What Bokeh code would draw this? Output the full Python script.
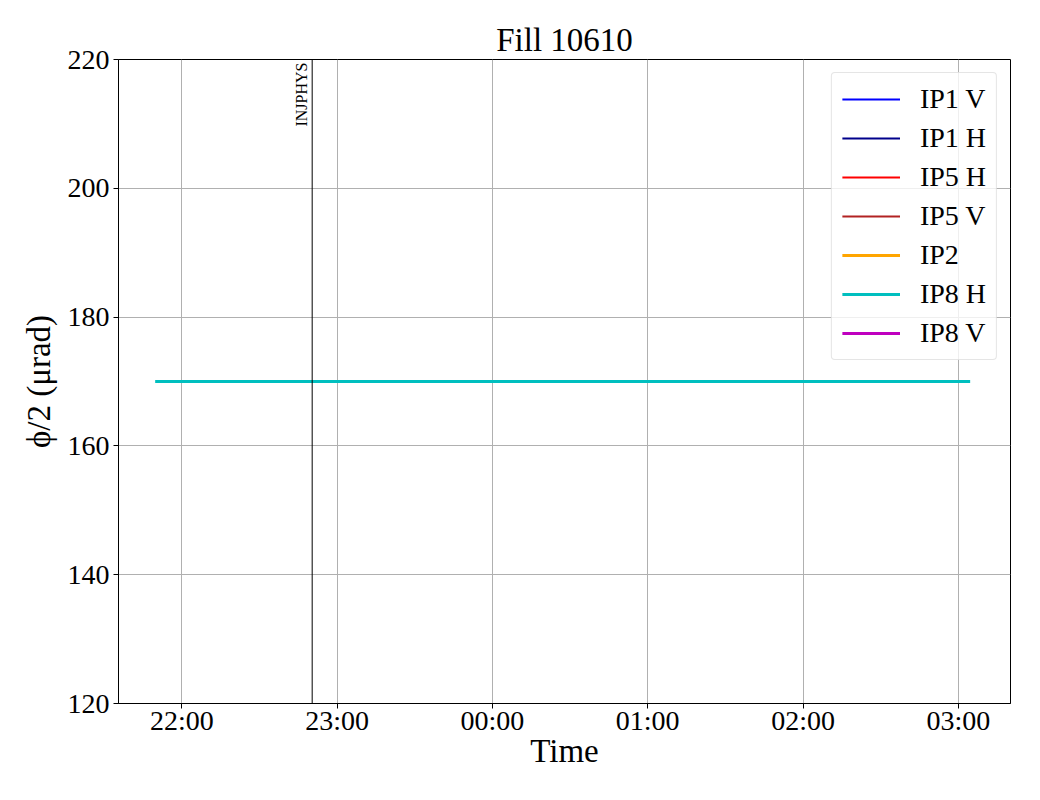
import pandas as pd
import numpy as np
from bokeh.plotting import figure
from bokeh.models import Range1d, FixedTicker, DatetimeTickFormatter, Span, Legend
from bokeh.core.properties import value
from bokeh.embed import file_html
from bokeh.resources import INLINE

# ---- data ----
title_text = "Fill 10610"
series_names = ["IP1 V", "IP1 H", "IP5 H", "IP5 V", "IP2", "IP8 H", "IP8 V"]
series_colors = ["#0000ff", "#00008b", "#ff0000", "#b22222", "#ffa500", "#00bfbf", "#bf00bf"]
series_widths = [2, 2, 2, 2, 3, 3, 3]
ip8h_times = pd.to_datetime(["2025-05-10 21:49:40", "2025-05-11 03:04:35"])
ip8h_values = [170, 170]
# series without any valid value in this fill
series_times = {n: [ip8h_times[0]] for n in series_names}
series_values = {n: [np.nan] for n in series_names}
series_times["IP8 H"] = list(ip8h_times)
series_values["IP8 H"] = ip8h_values

event_times = pd.to_datetime(["2025-05-10 22:50:20"])
event_labels = ["INJPHYS"]

x_ticks = pd.to_datetime(["2025-05-10 22:00", "2025-05-10 23:00", "2025-05-11 00:00",
                          "2025-05-11 01:00", "2025-05-11 02:00", "2025-05-11 03:00"])
y_ticks = [120, 140, 160, 180, 200, 220]
y_min, y_max = 120, 220

FONT = "Liberation Serif"

def ms(t):
    return pd.Timestamp(t).timestamp() * 1000.0

t0, t1 = ms(ip8h_times[0]), ms(ip8h_times[-1])
pad = 0.045 * (t1 - t0)

p = figure(width=1024, height=784, output_backend="svg", toolbar_location=None,
           x_axis_type="datetime",
           x_range=Range1d(t0 - pad, t1 + 1.1 * pad), y_range=Range1d(y_min, y_max),
           min_border_left=118, min_border_right=14, min_border_top=59, min_border_bottom=81)

p.title.text = title_text
p.title.text_font = FONT
p.title.text_font_size = "33px"
p.title.text_font_style = "normal"
p.title.align = "center"
p.title.text_color = "black"
p.title.standoff = 4

renderers = []
for name, col, w in zip(series_names, series_colors, series_widths):
    r = p.line(x=[ms(t) for t in series_times[name]], y=series_values[name],
               line_color=col, line_width=w)
    renderers.append((name, [r]))

for t, lab in zip(event_times, event_labels):
    p.add_layout(Span(location=ms(t), dimension="height", line_color="black", line_width=1))
    p.text(x=[ms(t)], y=[y_max], text=[lab], angle=1.5707963, text_align="right",
           text_baseline="bottom", text_font=value(FONT), text_font_size="16px",
           text_color="black", y_offset=3, x_offset=-2)

legend = Legend(items=renderers, location="top_right")
legend.label_text_font = FONT
legend.label_text_font_size = "28px"
legend.label_text_color = "black"
legend.glyph_width = 58
legend.glyph_height = 30
legend.label_height = 30
legend.label_standoff = 20
legend.spacing = 7
legend.padding = 10
legend.margin = 13
legend.border_line_color = "#cccccc"
legend.background_fill_alpha = 0.8
if "border_radius" in Legend.properties():
    legend.border_radius = 4
p.add_layout(legend, "center")

# axes
p.xaxis.ticker = FixedTicker(ticks=[ms(t) for t in x_ticks])
p.xaxis.formatter = DatetimeTickFormatter(hours="%H:%M", minutes="%H:%M", hourmin="%H:%M", days="%H:%M")
p.yaxis.ticker = FixedTicker(ticks=y_ticks)
p.xaxis.axis_label = "Time"
p.yaxis.axis_label = "ϕ/2 (μrad)"
for ax in (p.xaxis, p.yaxis):
    ax.axis_label_text_font = FONT
    ax.axis_label_text_font_size = "33px"
    ax.axis_label_text_font_style = "normal"
    ax.axis_label_text_color = "black"
    ax.major_label_text_font = FONT
    ax.major_label_text_font_size = "28px"
    ax.major_label_text_color = "black"
    ax.major_tick_out = 5
    ax.major_tick_in = 0
    ax.minor_tick_out = 0
    ax.minor_tick_in = 0
    ax.axis_line_color = "black"
    ax.major_tick_line_color = "black"
p.yaxis.major_label_standoff = 4
p.yaxis.axis_label_standoff = 8
p.xaxis.major_label_standoff = -4
p.xaxis.axis_label_standoff = -6
p.yaxis.major_label_orientation = "horizontal"

p.grid.grid_line_color = "#b0b0b0"
p.grid.grid_line_width = 1
p.outline_line_color = "black"
p.outline_line_width = 1
p.outline_line_alpha = 1

open("out.html", "w").write(file_html(p, INLINE))
